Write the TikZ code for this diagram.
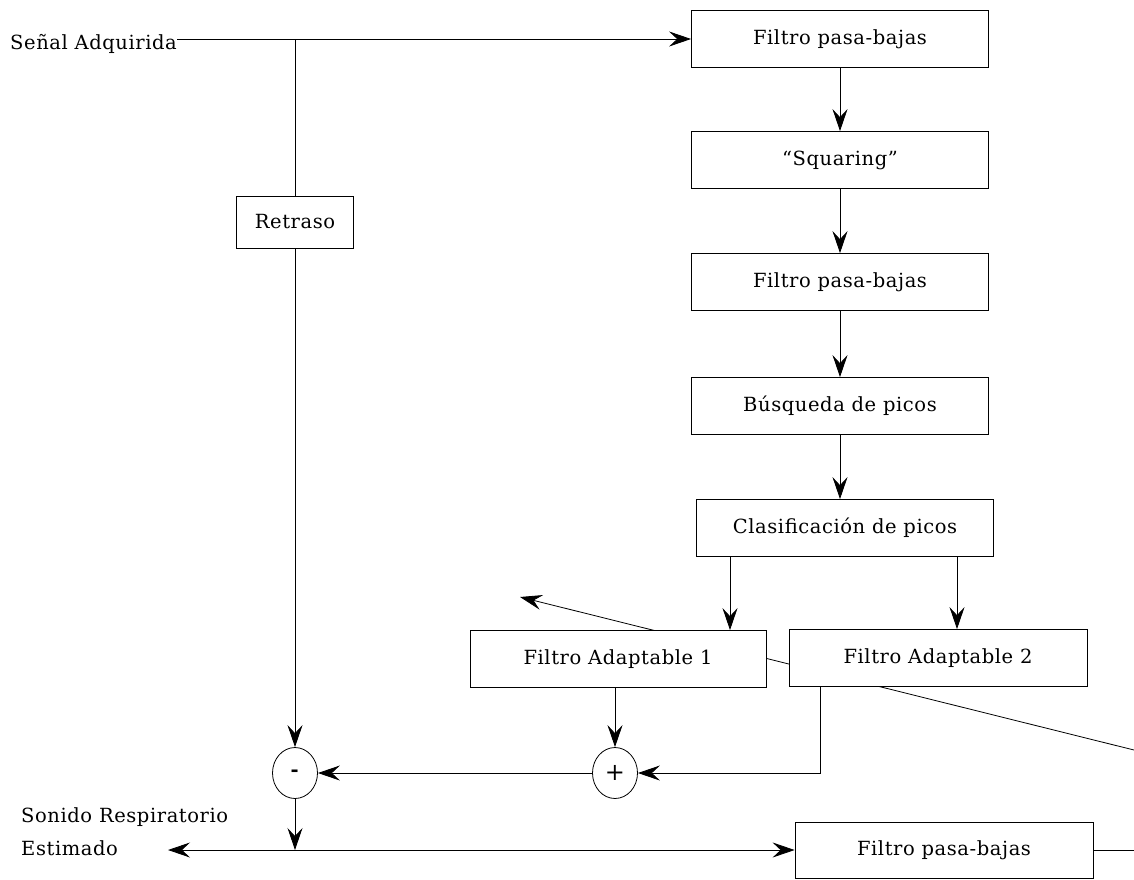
\documentclass[tikz,border=0pt]{standalone}
\usepackage{fontspec}
\setmainfont{DejaVu Serif}[LetterSpace=3]
\usetikzlibrary{arrows.meta,shapes.geometric}
\begin{document}
\begin{tikzpicture}[x=1pt,y=-1pt,
  every node/.style={font=\fontsize{19.5}{33}\selectfont},
  blk/.style={draw, fill=white, line width=0.8pt, minimum width=297pt,
              minimum height=57pt, inner sep=0pt},
  sumnode/.style={draw, fill=white, ellipse, line width=0.8pt,
                  minimum width=45pt, minimum height=51pt, inner sep=0pt},
  wire/.style={line width=0.8pt},
  conn/.style={wire, -{Stealth[length=22pt,width=15pt,inset=8pt]}}
]
\useasboundingbox (0,0) rectangle (1134,879);

% long slanted line passing behind the adaptive filter blocks
\coordinate (dstart) at (1134,750);
\coordinate (dtip) at (520,597);
\draw[conn] (dstart) -- (dtip);

% main processing chain
\node[blk] (lp1) at (840,39) {Filtro pasa-bajas};
\node[blk] (sq)  at (840,160) {“Squaring”};
\node[blk] (lp2) at (840,282) {Filtro pasa-bajas};
\node[blk] (pk)  at (840,406) {Búsqueda de picos};
\node[blk] (cl)  at (845,528) {Clasificación de picos};
\node[blk, minimum width=296pt] (fa1) at (618,659) {Filtro Adaptable 1};
\node[blk, minimum width=298pt] (fa2) at (938,658) {Filtro Adaptable 2};
\node[blk, minimum width=298pt, minimum height=56pt] (lp3) at (944,850) {Filtro pasa-bajas};

% delay branch and summing junctions
\node[blk, minimum width=117pt, minimum height=52pt] (ret) at (295,222) {Retraso};
\node[sumnode] (minus) at (295,773) {\textbf{-}};
\node[sumnode] (plus)  at (615,773) {\fontsize{24}{24}\selectfont +};

% input / output labels
\node[anchor=west, inner sep=0pt] (in) at (10,44) {Señal Adquirida};
\node[anchor=west, align=left, inner sep=0pt] (out) at (21,832) {Sonido Respiratorio\\Estimado};

% input split
\coordinate (split) at (295,39);
\draw[wire] (split -| in.east) -- (split);
\draw[conn] (split) -- (lp1.west);
\draw[wire] (split) -- (ret.north);
\draw[conn] (ret.south) -- (minus.north);

% vertical chain
\draw[conn] (lp1.south) -- (sq.north);
\draw[conn] (sq.south) -- (lp2.north);
\draw[conn] (lp2.south) -- (pk.north);
\draw[conn] (pk.south) -- (pk.south |- cl.north);
\draw[conn] ([xshift=-115pt]cl.south) -- ([xshift=-115pt]cl.south |- fa1.north);
\draw[conn] ([xshift=112pt]cl.south) -- ([xshift=112pt]cl.south |- fa2.north);

% adaptive filter outputs into the summing junctions
\draw[conn] (fa1.south -| plus) -- (plus.north);
\draw[conn] ([xshift=-118pt]fa2.south) |- (plus.east);
\draw[conn] (plus.west) -- (minus.east);

% estimated output
\coordinate (junc) at (295,850);
\coordinate (outtip) at (168,850);
\coordinate (rightend) at (1134,850);
\draw[conn] (minus.south) -- (junc);
\draw[conn] (junc) -- (outtip);
\draw[conn] (junc) -- (lp3.west);
\draw[wire] (lp3.east) -- (rightend);
\end{tikzpicture}
\end{document}
